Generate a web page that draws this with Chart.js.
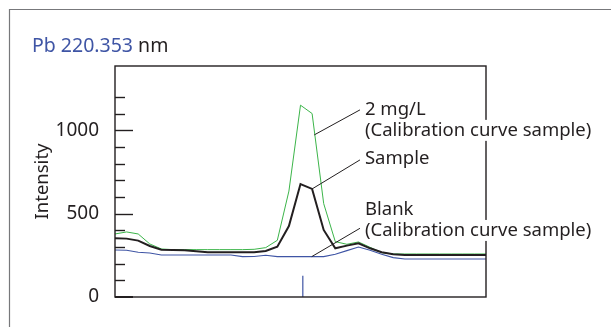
<!DOCTYPE html>
<html>
<head>
<meta charset="utf-8">
<script src="https://cdn.jsdelivr.net/npm/chart.js@4.4.1/dist/chart.umd.min.js"></script>
<style>
  html, body { margin: 0; padding: 0; background: #fff; }
  #wrap { position: relative; width: 611px; height: 327px; overflow: hidden; }
</style>
</head>
<body>
<div id="wrap"><canvas id="peakChart" width="611" height="327"></canvas></div>
<script>
// channel index along the wavelength axis (33 points)
var channels = [0, 1, 2, 3, 4, 5, 6, 7, 8, 9, 10, 11, 12, 13, 14, 15, 16,
  17, 18, 19, 20, 21, 22, 23, 24, 25, 26, 27, 28, 29, 30, 31, 32];
// intensities
var std_2mgL = [378, 390, 378, 318, 288, 284, 284, 284, 284, 284, 284, 284, 286, 296, 340, 635, 1150,
  1100, 560, 332, 316, 330, 298, 266, 258, 258, 258, 258, 258, 258, 258, 258, 258];
var sample = [352, 350, 338, 306, 284, 282, 280, 274, 268, 268, 268, 268, 268, 276, 302, 425, 677,
  648, 402, 292, 308, 322, 292, 268, 256, 252, 252, 252, 252, 252, 252, 252, 252];
var blank = [282, 280, 268, 264, 252, 252, 252, 252, 252, 252, 252, 242, 243, 250, 242, 242, 242,
  242, 242, 256, 278, 300, 280, 256, 236, 228, 228, 228, 228, 228, 228, 228, 228];
// peak position marker (channel) and its height
var peak_channel = 16.2;
var peak_marker = [0, 128];
var y_labels = [0, 500, 1000];

var ink = '#231f20';
var green = '#3cb54a';
var blue = '#3f55a5';
var font_family = '"Noto Sans", "Open Sans", sans-serif';

function toPoints(values) {
  return values.map(function (v, i) { return { x: channels[i], y: v }; });
}

// leader lines + labels, anchored in data space
var callouts = [
  { from: [17.19, 972], to: [21.13, 1122], lines: ['2 mg/L', '(Calibration curve sample)'], at: [21.56, 1092] },
  { from: [17.0, 648], to: [21.13, 822], lines: ['Sample'], at: [21.56, 800] },
  { from: [16.97, 242], to: [21.13, 412], lines: ['Blank', '(Calibration curve sample)'], at: [21.56, 492] }
];

var decorations = {
  id: 'decorations',
  beforeDraw: function (chart) {
    var ctx = chart.ctx;
    ctx.save();
    ctx.fillStyle = '#fff';
    ctx.fillRect(0, 0, chart.width, chart.height);
    // outer panel frame (only top and left edges are in view)
    ctx.strokeStyle = '#77787b';
    ctx.lineWidth = 1.2;
    ctx.beginPath();
    ctx.moveTo(9.5, chart.height);
    ctx.lineTo(9.5, 9.5);
    ctx.lineTo(chart.width, 9.5);
    ctx.stroke();
    // heading
    ctx.font = '19.5px ' + font_family;
    ctx.textBaseline = 'alphabetic';
    ctx.fillStyle = blue;
    var head = 'Pb 220.353';
    ctx.fillText(head, 32, 51.5);
    ctx.fillStyle = ink;
    ctx.fillText(' nm', 32 + ctx.measureText(head).width, 51.5);
    ctx.restore();
  },
  afterDatasetsDraw: function (chart) {
    var ctx = chart.ctx;
    var area = chart.chartArea;
    var xs = chart.scales.x, ys = chart.scales.y;
    ctx.save();
    // plot frame
    ctx.strokeStyle = ink;
    ctx.lineWidth = 1.4;
    ctx.strokeRect(area.left, area.top, area.right - area.left, area.bottom - area.top);
    // inside ticks, every 100, longer every 500
    ys.ticks.forEach(function (t) {
      var v = Math.round(t.value);
      if (v % 100 !== 0 || v === 0) return;
      var y = Math.round(ys.getPixelForValue(v)) + 0.5;
      var len = v % 500 === 0 ? 18 : 10;
      ctx.beginPath();
      ctx.moveTo(area.left, y);
      ctx.lineTo(area.left + len, y);
      ctx.stroke();
    });
    ctx.lineWidth = 2;
    ctx.beginPath();
    ctx.moveTo(area.left, area.bottom);
    ctx.lineTo(area.left + 18, area.bottom);
    ctx.stroke();
    // callouts
    ctx.lineWidth = 1;
    ctx.font = '18.5px ' + font_family;
    ctx.textBaseline = 'alphabetic';
    callouts.forEach(function (c) {
      ctx.strokeStyle = ink;
      ctx.beginPath();
      ctx.moveTo(xs.getPixelForValue(c.from[0]), ys.getPixelForValue(c.from[1]));
      ctx.lineTo(xs.getPixelForValue(c.to[0]), ys.getPixelForValue(c.to[1]));
      ctx.stroke();
      var tx = xs.getPixelForValue(c.at[0]);
      var ty = ys.getPixelForValue(c.at[1]);
      c.lines.forEach(function (line, k) {
        var by = ty + k * 21;
        var w = ctx.measureText(line).width;
        ctx.fillStyle = '#fff';
        ctx.fillRect(tx - 1, by - 16, w + 2, 21);
        ctx.fillStyle = ink;
        ctx.fillText(line, tx, by);
      });
    });
    ctx.restore();
  }
};

var chart = new Chart(document.getElementById('peakChart').getContext('2d'), {
  type: 'line',
  data: {
    datasets: [
      { label: '2 mg/L', data: toPoints(std_2mgL), borderColor: green, borderWidth: 1, order: 3 },
      { label: 'Sample', data: toPoints(sample), borderColor: ink, borderWidth: 2, order: 1 },
      { label: 'Blank', data: toPoints(blank), borderColor: blue, borderWidth: 1.1, order: 2 },
      { label: 'Peak', data: peak_marker.map(function (v) { return { x: peak_channel, y: v }; }),
        borderColor: blue, borderWidth: 1.2, order: 4 }
    ]
  },
  options: {
    responsive: false,
    animation: false,
    events: [],
    layout: { padding: { left: 0, top: 66, right: 125, bottom: 30 } },
    elements: {
      point: { radius: 0 },
      line: { tension: 0, fill: false, borderJoinStyle: 'miter' }
    },
    plugins: { legend: { display: false }, tooltip: { enabled: false } },
    scales: {
      x: { type: 'linear', min: 0, max: 32, display: false },
      y: {
        type: 'linear',
        min: 0,
        max: 1385,
        afterFit: function (scale) { scale.width = 115; },
        grid: { display: false },
        border: { display: false },
        ticks: {
          stepSize: 100,
          autoSkip: false,
          padding: 8,
          color: ink,
          font: { family: font_family, size: 19 },
          callback: function (v) { return y_labels.indexOf(Math.round(v)) >= 0 ? String(Math.round(v)) : ''; }
        },
        title: {
          display: true,
          text: 'Intensity',
          color: ink,
          font: { family: font_family, size: 18.5, lineHeight: 1.2 },
          padding: { top: 32, bottom: 0 }
        }
      }
    }
  },
  plugins: [decorations]
});
</script>
</body>
</html>
